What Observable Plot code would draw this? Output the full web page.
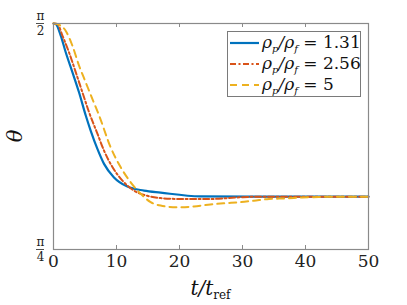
<!DOCTYPE html>
<html>
<head>
<meta charset="utf-8">
<script src="https://cdn.jsdelivr.net/npm/d3@7"></script>
<script src="https://cdn.jsdelivr.net/npm/@observablehq/plot@0.6"></script>
<style>
  html, body { margin: 0; padding: 0; background: #fff; }
  #wrap { position: relative; width: 407px; height: 305px; overflow: hidden; }
  #legend { position: absolute; left: 227px; top: 31px; width: 132px; height: 64px;
    border: 1px solid #7a7a7a; background: #fff; }
  .row { position: absolute; left: 0; height: 20px; display: flex; align-items: center; }
  .row svg { margin-left: 2px; }
  .lab { margin-left: 3px; font-size: 17px; font-style: italic; color: #111; white-space: nowrap;
    font-family: "DejaVu Serif", serif; }
  .lab .up { font-style: normal; }
  .lab sub { font-size: 10px; }
</style>
</head>
<body>
<div id="wrap"></div>
<script>
// Data (t / t_ref, theta in radians)
const blueT = [0, 0.36, 1.16, 1.95, 3.01, 4.06, 5.12, 5.91, 6.97, 8.02, 9.6, 11.73, 14.36, 17.0, 23.3, 31.3, 40, 50];
const blueY = [1.5708, 1.5687, 1.528, 1.470, 1.401, 1.331, 1.251, 1.198, 1.135, 1.083, 1.036, 1.004, 0.990, 0.983, 0.970, 0.969, 0.969, 0.969];

const redT = [0, 0.63, 1.43, 2.47, 3.54, 4.6, 5.65, 6.97, 8.02, 9.35, 10.94, 12.77, 14.9, 17.0, 20.2, 25, 29.7, 32.8, 40, 50];
const redY = [1.5708, 1.5687, 1.528, 1.470, 1.401, 1.331, 1.262, 1.188, 1.129, 1.072, 1.025, 0.990, 0.972, 0.964, 0.961, 0.961, 0.967, 0.969, 0.969, 0.969];

const yelT = [0, 0.5, 1.0, 1.95, 3.01, 4.06, 5.12, 6.18, 7.24, 9.08, 10.67, 12.25, 13.84, 15.42, 17.0, 19.65, 22.3, 24.9, 27.0, 29.7, 31.8, 34.2, 36.8, 39.5, 42.1, 44.4, 50];
const yelY = [1.5708, 1.570, 1.565, 1.545, 1.493, 1.424, 1.366, 1.308, 1.251, 1.140, 1.071, 1.019, 0.979, 0.950, 0.938, 0.932, 0.935, 0.942, 0.946, 0.950, 0.955, 0.961, 0.963, 0.966, 0.968, 0.969, 0.969];

const seriesNames = ["1.31", "2.56", "5"];
const seriesColors = ["#0072BD", "#D95319", "#EDB120"];
const seriesDash = [null, "6,2.5,2,2.5", "7,5"];
const seriesWidths = [2.2, 2, 2];

const xTicks = [0, 10, 20, 30, 40, 50];
const yTicks = [Math.PI / 2, Math.PI / 4];
const yTickDenoms = ["2", "4"];

const toRows = (ts, ys) => ts.map((t, i) => ({t, y: ys[i]}));
const series = [toRows(blueT, blueY), toRows(redT, redY), toRows(yelT, yelY)];

const serif = "DejaVu Serif";
const W = 407, H = 305, mL = 53, mR = 39, mT = 23, mB = 56;
const fw = W - mL - mR, fh = H - mT - mB;

const lineMarks = series.map((rows, i) => Plot.line(rows, {
  x: "t", y: "y", stroke: seriesColors[i], strokeWidth: seriesWidths[i],
  strokeDasharray: seriesDash[i], curve: "monotone-x"
}));

const chart = Plot.plot({
  width: W, height: H,
  marginLeft: mL, marginRight: mR, marginTop: mT, marginBottom: mB,
  style: {fontFamily: serif, background: "#fff", overflow: "visible"},
  x: {domain: [0, 50], axis: null},
  y: {domain: [Math.PI / 4, Math.PI / 2], axis: null},
  marks: [
    ...lineMarks,
    Plot.frame({stroke: "#8a8a8a", strokeWidth: 1.2}),
    // inward ticks bottom and top
    Plot.ruleX(xTicks.slice(1, -1), {x: d => d, stroke: "#8a8a8a", insetTop: fh - 4}),
    Plot.ruleX(xTicks.slice(1, -1), {x: d => d, stroke: "#8a8a8a", insetBottom: fh - 4}),
    Plot.text(xTicks, {x: d => d, frameAnchor: "bottom", dy: 17, text: d => String(d), fontSize: 17, fill: "#222", fontFamily: serif, textAnchor: "middle"}),
    // fraction tick labels on y
    Plot.text(yTicks, {frameAnchor: "left", y: d => d, text: () => "π", dx: -13, dy: -7, fontSize: 12, fill: "#222", fontFamily: serif, textAnchor: "middle"}),
    Plot.text(yTicks, {frameAnchor: "left", y: d => d, text: (d, i) => yTickDenoms[i], dx: -13, dy: 7.5, fontSize: 12, fill: "#222", fontFamily: serif, textAnchor: "middle"}),
    Plot.ruleY(yTicks, {y: d => d, stroke: "#222", strokeWidth: 0.8, insetRight: fw - 8, dx: -17})
  ]
});

const svg = d3.select(chart);
// axis labels
const xs = chart.scale("x"), ys = chart.scale("y");
const lx = svg.append("text").attr("x", xs.apply(25)).attr("y", H - 10)
  .attr("text-anchor", "middle").attr("font-size", 20).attr("fill", "#111").attr("font-family", serif);
lx.append("tspan").attr("font-style", "italic").text("t/t");
lx.append("tspan").attr("font-size", 12).attr("dy", 4).text("ref");

svg.append("text").attr("transform", `translate(22,${(ys.apply(Math.PI/2) + ys.apply(Math.PI/4)) / 2}) rotate(-90)`)
  .attr("text-anchor", "middle").attr("font-size", 21).attr("font-style", "italic").attr("fill", "#111")
  .attr("font-family", serif).text("θ");

const wrap = document.getElementById("wrap");
wrap.appendChild(chart);

// legend
const leg = document.createElement("div");
leg.id = "legend";
seriesNames.forEach((name, i) => {
  const row = document.createElement("div");
  row.className = "row";
  row.style.top = (1 + i * 21) + "px";
  const dash = seriesDash[i] ? `stroke-dasharray="${seriesDash[i]}"` : "";
  row.innerHTML = `<svg width="29" height="10"><line x1="0" y1="5" x2="29" y2="5" stroke="${seriesColors[i]}" stroke-width="${seriesWidths[i]}" ${dash}/></svg>` +
    `<span class="lab">ρ<sub>p</sub>/ρ<sub>f</sub> <span class="up">= ${name}</span></span>`;
  leg.appendChild(row);
});
wrap.appendChild(leg);
</script>
</body>
</html>
